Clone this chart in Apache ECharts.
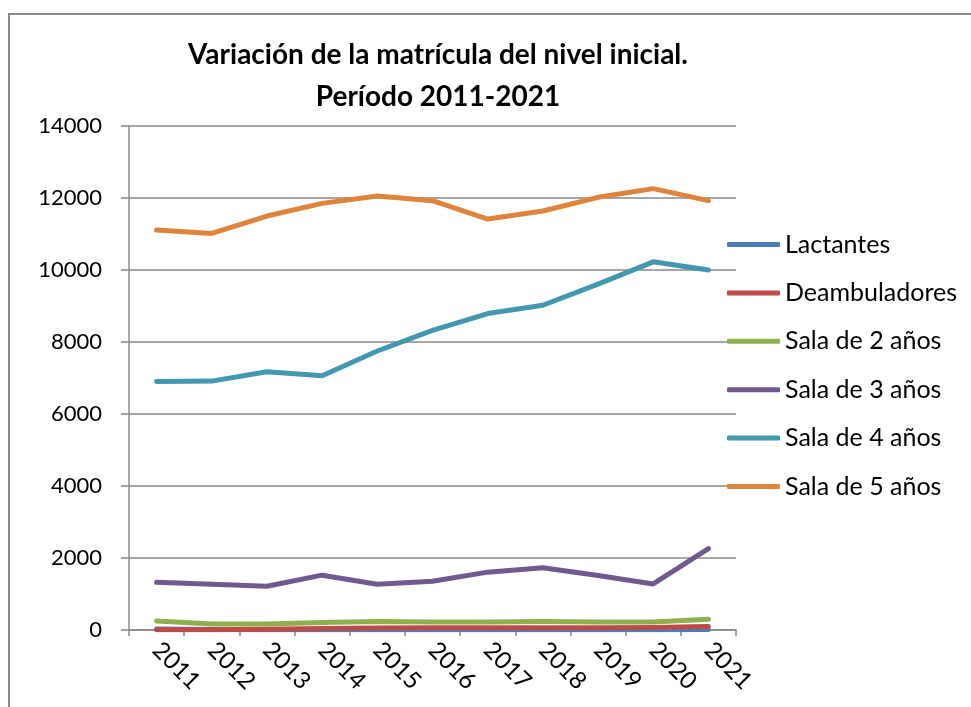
<!DOCTYPE html>
<html>
<head>
<meta charset="utf-8">
<script src="https://cdn.jsdelivr.net/npm/echarts@6/dist/echarts.min.js"></script>
<style>
html,body{margin:0;padding:0;background:#fff;}
#chart{width:971px;height:707px;}
</style>
</head>
<body>
<div id="chart"></div>
<script>
var years = ['2011','2012','2013','2014','2015','2016','2017','2018','2019','2020','2021'];
var lactantes     = [30, 15, 10, 10, 10, 10, 10, 10, 10, 10, 15];
var deambuladores = [5, 10, 20, 40, 55, 60, 60, 65, 65, 70, 100];
var sala2 = [250, 170, 170, 205, 235, 225, 225, 235, 225, 225, 300];
var sala3 = [1325, 1270, 1215, 1523, 1271, 1355, 1607, 1729, 1514, 1280, 2262];
var sala4 = [6905, 6914, 7174, 7063, 7750, 8325, 8789, 9021, 9606, 10227, 10000];
var sala5 = [11109, 11016, 11499, 11851, 12056, 11926, 11415, 11638, 12019, 12260, 11926];
var seriesNames = ['Lactantes','Deambuladores','Sala de 2 años','Sala de 3 años','Sala de 4 años','Sala de 5 años'];
var seriesData = [lactantes, deambuladores, sala2, sala3, sala4, sala5];
var colors = ['#4A7EBB','#BE4B48','#8EB04C','#71588F','#4198AF','#E0843C'];
var yTicks = [0, 2000, 4000, 6000, 8000, 10000, 12000, 14000];

var chart = echarts.init(document.getElementById('chart'));
var font = 'Lato, "Open Sans", sans-serif';
chart.setOption({
  animation: false,
  color: colors,
  textStyle: {fontFamily: font},
  graphic: [{
    type: 'rect', left: 8, top: 13, z: -1,
    shape: {width: 1000, height: 760},
    style: {fill: '#fff', stroke: '#8a8a8a', lineWidth: 2}
  }],
  title: {
    text: 'Variación de la matrícula del nivel inicial.\nPeríodo 2011-2021',
    left: 433, textAlign: 'center', top: 29,
    textStyle: {fontFamily: font, fontWeight: 'bold', fontSize: 28, lineHeight: 42, color: '#000'}
  },
  legend: {
    orient: 'vertical', left: 722, top: 227,
    icon: 'roundRect', itemWidth: 53, itemHeight: 5, itemGap: 23.4,
    textStyle: {fontFamily: font, fontSize: 25, lineHeight: 25, color: '#000'},
    data: seriesNames
  },
  grid: {left: 129, right: 235, top: 126, bottom: 77, containLabel: false},
  xAxis: {
    type: 'category', data: years, boundaryGap: true,
    axisLine: {lineStyle: {color: '#888', width: 1.5}},
    axisTick: {show: true, interval: 0, length: 6, lineStyle: {color: '#888', width: 1.5}},
    axisLabel: {rotate: -45, margin: 16, interval: 0, fontFamily: font, fontSize: 24, color: '#000'}
  },
  yAxis: {
    type: 'value', min: yTicks[0], max: yTicks[yTicks.length-1], interval: 2000,
    axisLine: {show: true, lineStyle: {color: '#888', width: 1.5}},
    axisTick: {show: true, length: 8, lineStyle: {color: '#888', width: 1.5}},
    splitLine: {lineStyle: {color: '#888', width: 1.5}},
    axisLabel: {margin: 27, fontFamily: font, fontSize: 22, color: '#000',
      formatter: function(v){ return String(v); }}
  },
  series: seriesNames.map(function(n, i){
    return {
      name: n, type: 'line', data: seriesData[i], symbol: 'none', smooth: false,
      lineStyle: {width: 5, cap: 'round', join: 'round', color: colors[i]},
      itemStyle: {color: colors[i]}
    };
  })
});
</script>
</body>
</html>
